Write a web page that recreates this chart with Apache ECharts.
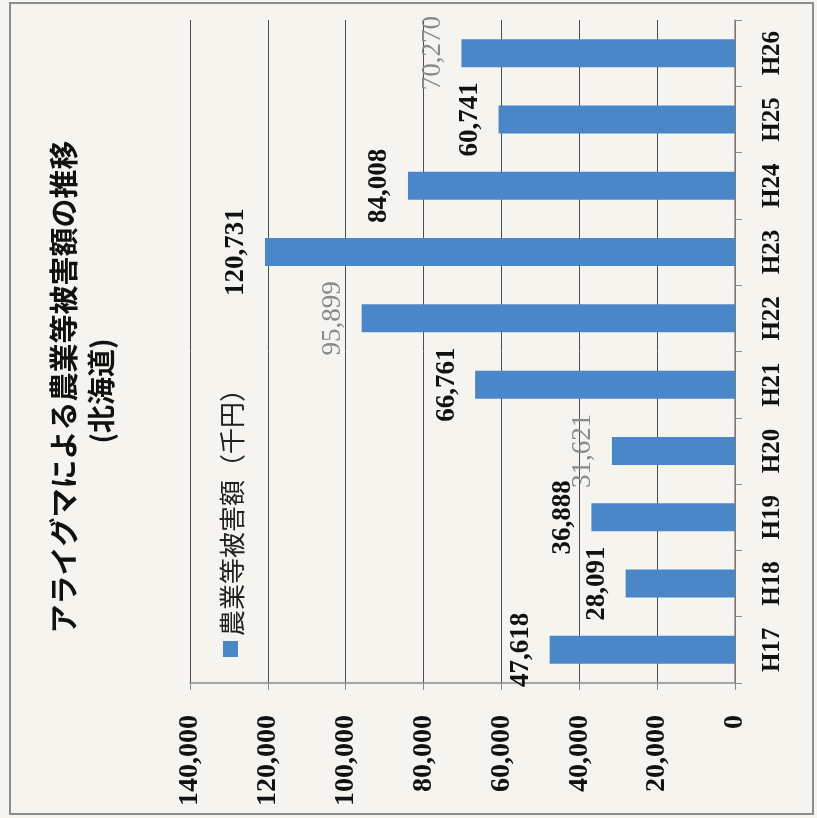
<!DOCTYPE html>
<html>
<head>
<meta charset="utf-8">
<script src="https://cdn.jsdelivr.net/npm/echarts@6/dist/echarts.min.js"></script>
<style>
html,body{margin:0;padding:0;background:#f5f4ef;}
#main{width:817px;height:818px;}
</style>
</head>
<body>
<div id="main"></div>
<script>
// ---- data ----
const categories = ['H17','H18','H19','H20','H21','H22','H23','H24','H25','H26'];
const damageValues = [47618, 28091, 36888, 31621, 66761, 95899, 120731, 84008, 60741, 70270];
const fadedLabels = ['H20','H22','H26']; // labels printed lighter in the scan
const seriesName = '農業等被害額（千円）';
const titleLines = ['アライグマによる農業等被害額の推移', '(北海道)'];
const valueMin = 0, valueMax = 140000, valueStep = 20000;

const fmt = v => String(v).replace(/\B(?=(\d{3})+(?!\d))/g, ',');
const numFont = '"Liberation Serif", "DejaVu Serif", serif';
const jpFont = '"Noto Sans CJK JP", sans-serif';
const barColor = '#4a87c8';

const chart = echarts.init(document.getElementById('main'));

const barData = categories.map((c, i) => {
  const faded = fadedLabels.indexOf(c) >= 0;
  return {
    value: damageValues[i],
    label: faded ? { color: '#8a8a8a', fontWeight: 'normal' } : {}
  };
});

chart.setOption({
  backgroundColor: '#f5f4ef',
  animation: false,
  legend: { show: false },
  grid: { left: 190, right: 82, top: 20, bottom: 135 },
  xAxis: {
    type: 'value',
    inverse: true,
    position: 'bottom',
    min: valueMin, max: valueMax, interval: valueStep,
    axisLine: { show: true, lineStyle: { color: '#8a8a8a', width: 1.5 } },
    axisTick: { show: true, length: 7, lineStyle: { color: '#8a8a8a' } },
    splitLine: { show: true, lineStyle: { color: '#4d4d4d', width: 1 } },
    axisLabel: {
      rotate: 90, margin: 32,
      formatter: v => fmt(v),
      color: '#111', fontFamily: numFont, fontWeight: 'bold', fontSize: 28
    }
  },
  yAxis: {
    type: 'category',
    position: 'right',
    data: categories,
    axisLine: { show: true, lineStyle: { color: '#8a8a8a', width: 1.5 } },
    axisTick: { show: true, length: 7, lineStyle: { color: '#8a8a8a' } },
    splitLine: { show: false },
    axisLabel: {
      rotate: 90, margin: 25,
      color: '#111', fontFamily: numFont, fontWeight: 'bold', fontSize: 25
    }
  },
  series: [{
    name: seriesName,
    type: 'bar',
    data: barData,
    barWidth: 28,
    itemStyle: { color: barColor },
    label: {
      show: true,
      position: 'left',
      distance: 15,
      rotate: 90,
      align: 'center',
      verticalAlign: 'bottom',
      formatter: p => fmt(p.value),
      color: '#111', fontFamily: numFont, fontWeight: 'bold', fontSize: 27
    }
  }],
  graphic: [
    {
      type: 'rect', z: -1, silent: true,
      shape: { x: 10, y: 3, width: 803, height: 811 },
      style: { fill: 'none', stroke: '#8c8c8c', lineWidth: 2 }
    },
    {
      type: 'text', x: 64, y: 387, rotation: Math.PI / 2,
      style: { text: titleLines[0], font: 'bold 29px ' + jpFont, fill: '#111',
               align: 'center', verticalAlign: 'middle', textAlign: 'center', textVerticalAlign: 'middle' }
    },
    {
      type: 'text', x: 101, y: 391, rotation: Math.PI / 2,
      style: { text: titleLines[1], font: 'bold 28px ' + jpFont, fill: '#111',
               align: 'center', verticalAlign: 'middle', textAlign: 'center', textVerticalAlign: 'middle' }
    },
    {
      type: 'rect',
      shape: { x: 223, y: 641, width: 15, height: 16 },
      style: { fill: barColor }
    },
    {
      type: 'text', x: 232, y: 636, rotation: Math.PI / 2,
      style: { text: seriesName, font: '26px ' + jpFont, fill: '#222',
               align: 'left', verticalAlign: 'middle', textAlign: 'left', textVerticalAlign: 'middle' }
    }
  ]
});
</script>
</body>
</html>
